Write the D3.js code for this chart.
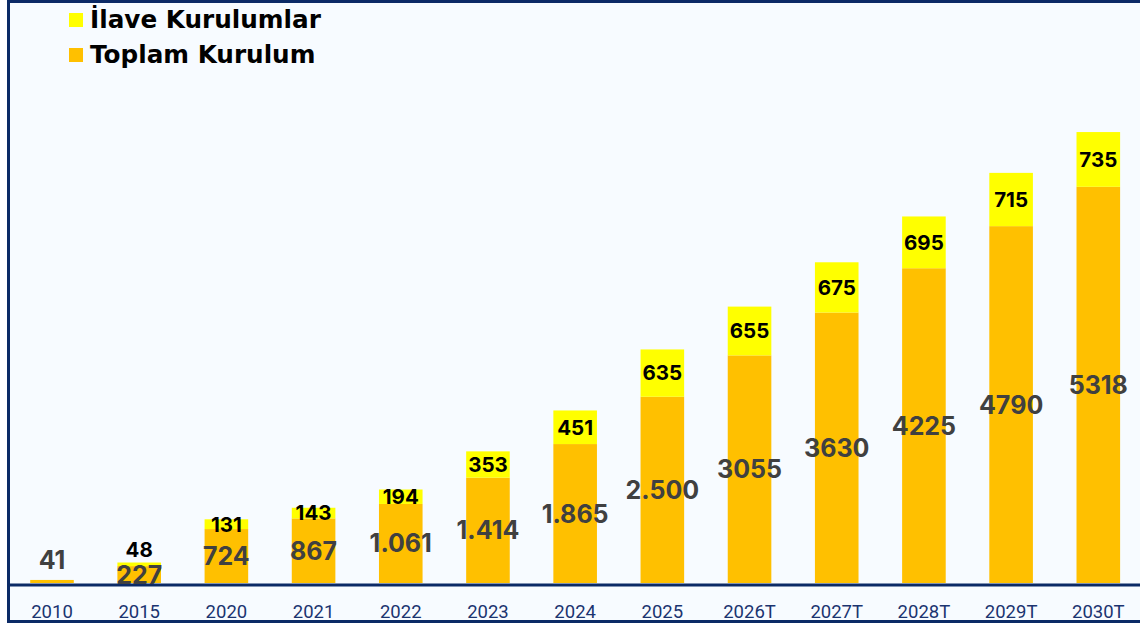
<!DOCTYPE html>
<html>
<head>
<meta charset="utf-8">
<script src="https://cdn.jsdelivr.net/npm/d3@7"></script>
<style>
  html, body { margin: 0; padding: 0; background: #ffffff; }
  svg { display: block; }
</style>
</head>
<body>
<div id="chart"></div>
<script>
// data
const years = ["2010", "2015", "2020", "2021", "2022", "2023", "2024", "2025", "2026T", "2027T", "2028T", "2029T", "2030T"];
const toplam = [41, 227, 724, 867, 1061, 1414, 1865, 2500, 3055, 3630, 4225, 4790, 5318];
const toplamLabels = ["41", "227", "724", "867", "1.061", "1.414", "1.865", "2.500", "3055", "3630", "4225", "4790", "5318"];
const ilave = [null, 48, 131, 143, 194, 353, 451, 635, 655, 675, 695, 715, 735];
const seriesNames = ["İlave Kurulumlar", "Toplam Kurulum"];

const W = 1140, H = 631;
const navy = "#0b2a66";
const cOrange = "#ffc000";
const cYellow = "#ffff00";
const numFont = "Inter, 'DejaVu Sans', sans-serif";

const svg = d3.select("#chart").append("svg")
  .attr("width", W)
  .attr("height", H);

// panel + frame
svg.append("rect")
  .attr("x", 8.5).attr("y", 1.5)
  .attr("width", W + 10).attr("height", 620)
  .attr("fill", "#f7fbff")
  .attr("stroke", navy)
  .attr("stroke-width", 3);

const baseY = 583;

const x = d3.scaleBand()
  .domain(years)
  .range([8.4, 1141.9])
  .paddingInner(0.5)
  .paddingOuter(0.25);

const y = d3.scaleLinear()
  .domain([0, 6500])
  .range([baseY, baseY - 6500 * 0.0745]);

const rows = years.map((yr, i) => ({
  year: yr,
  total: toplam[i],
  totalLabel: toplamLabels[i],
  add: ilave[i] || 0,
  hasAdd: ilave[i] != null
}));

const bars = svg.append("g").attr("class", "bars");

// toplam (orange)
bars.selectAll("rect.total")
  .data(rows)
  .enter()
  .append("rect")
  .attr("class", "total")
  .attr("x", d => x(d.year))
  .attr("width", x.bandwidth())
  .attr("y", d => y(d.total))
  .attr("height", d => y(0) - y(d.total))
  .attr("fill", cOrange);

// ilave (yellow) stacked on top
bars.selectAll("rect.add")
  .data(rows.filter(d => d.hasAdd))
  .enter()
  .append("rect")
  .attr("class", "add")
  .attr("x", d => x(d.year))
  .attr("width", x.bandwidth())
  .attr("y", d => y(d.total + d.add))
  .attr("height", d => y(d.total) - y(d.total + d.add))
  .attr("fill", cYellow);

// axis line + year labels
const xAxis = svg.append("g")
  .attr("transform", "translate(0," + (baseY + 1.5) + ")")
  .call(d3.axisBottom(x).tickSize(0).tickSizeOuter(0));

xAxis.select(".domain")
  .attr("stroke", navy)
  .attr("stroke-width", 3);

xAxis.selectAll("text")
  .attr("y", 33)
  .attr("dy", 0)
  .attr("fill", "#1b3470")
  .style("font-family", "Roboto, 'Open Sans', sans-serif")
  .style("font-size", "18.5px");

// value labels
const labels = svg.append("g").attr("class", "labels");

labels.selectAll("text.total")
  .data(rows)
  .enter()
  .append("text")
  .attr("class", "total")
  .attr("x", d => x(d.year) + x.bandwidth() / 2)
  .attr("y", d => {
    let h = y(0) - y(d.total);
    if (h < 8) return y(d.total) - 20; // too thin, put above
    return (y(0) + y(d.total)) / 2;
  })
  .attr("dy", "0.36em")
  .attr("text-anchor", "middle")
  .style("font-family", numFont)
  .style("font-weight", 700)
  .style("font-size", "25px")
  .attr("fill", "#404040")
  .text(d => d.totalLabel);

labels.selectAll("text.add")
  .data(rows.filter(d => d.hasAdd))
  .enter()
  .append("text")
  .attr("class", "add")
  .attr("x", d => x(d.year) + x.bandwidth() / 2)
  .attr("y", d => {
    let top = y(d.total + d.add);
    let h = y(d.total) - top;
    if (h < 8) return top - 13;
    return (top + y(d.total)) / 2;
  })
  .attr("dy", "0.36em")
  .attr("text-anchor", "middle")
  .style("font-family", numFont)
  .style("font-weight", 700)
  .style("font-size", "20.5px")
  .attr("fill", "#000000")
  .text(d => d.add);

// legend
const legend = svg.append("g").attr("transform", "translate(69,13)");
const legendColors = [cYellow, cOrange];

legend.selectAll("rect")
  .data(seriesNames)
  .enter()
  .append("rect")
  .attr("x", 0)
  .attr("y", (d, i) => i * 35)
  .attr("width", 14)
  .attr("height", 14)
  .attr("fill", (d, i) => legendColors[i]);

legend.selectAll("text")
  .data(seriesNames)
  .enter()
  .append("text")
  .attr("x", 21)
  .attr("y", (d, i) => i * 35 + 14.5)
  .style("font-family", "'DejaVu Sans', sans-serif")
  .style("font-weight", 700)
  .style("font-size", "24.7px")
  .attr("fill", "#000000")
  .text(d => d);
</script>
</body>
</html>
